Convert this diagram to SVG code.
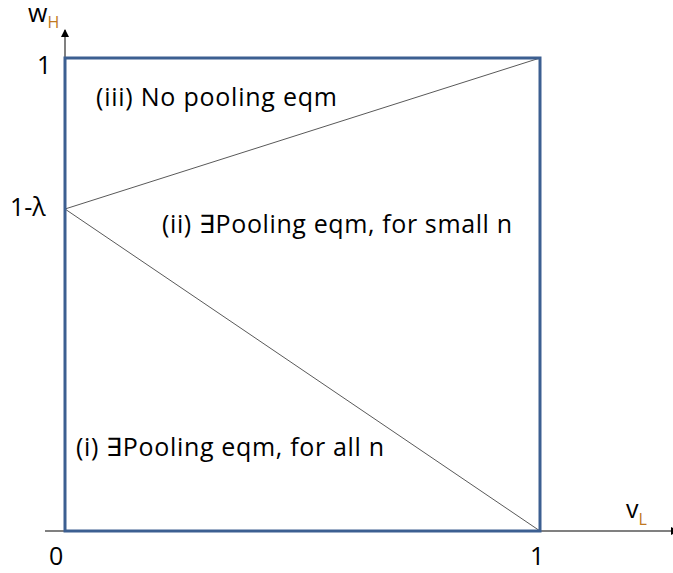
<svg xmlns="http://www.w3.org/2000/svg" width="673" height="573" viewBox="0 0 673 573">
<style>
.lbl{font-family:"Open Sans","Liberation Sans",sans-serif;font-size:25px;fill:#000}
.sub{font-family:"Open Sans","Liberation Sans",sans-serif;font-size:16px;fill:#c07820}
.axis{stroke:#808080;stroke-width:2;fill:none}
.box{stroke:#3c5f91;stroke-width:3;fill:none}
.thin{stroke:#595959;stroke-width:1;fill:none}
</style>
<defs>
<marker id="ah" markerWidth="8" markerHeight="8" refX="7" refY="4" orient="auto" markerUnits="userSpaceOnUse">
<path d="M0,0 L8,4 L0,8 Z" fill="#000"/>
</marker>
</defs>
<g id="connectors">
<line class="axis" x1="65" y1="58" x2="65" y2="30" marker-end="url(#ah)" id="y-axis"/>
<line class="axis" x1="45" y1="531" x2="678" y2="531" marker-end="url(#ah)" id="x-axis"/>
<line class="thin" x1="65" y1="209" x2="540" y2="58" id="upper-line"/>
<line class="thin" x1="65" y1="209" x2="540" y2="531" id="lower-line"/>
</g>
<g id="box">
<rect class="box" x="65" y="58" width="475" height="473"/>
</g>
<g id="axis-labels">
<text class="lbl" x="28" y="22">w<tspan class="sub" dy="6">H</tspan></text>
<text class="lbl" x="626" y="518">v<tspan class="sub" dy="7">L</tspan></text>
<text class="lbl" x="37" y="74">1</text>
<text class="lbl" x="10" y="216">1-λ</text>
<text class="lbl" x="49" y="565">0</text>
<text class="lbl" x="530" y="565">1</text>
</g>
<g id="region-iii"><text class="lbl" x="96" y="106" textLength="241">(iii) No pooling eqm</text></g>
<g id="region-ii"><text class="lbl" x="162" y="233" textLength="350">(ii) ∃Pooling eqm, for small n</text></g>
<g id="region-i"><text class="lbl" x="76" y="456" textLength="308">(i) ∃Pooling eqm, for all n</text></g>
</svg>
